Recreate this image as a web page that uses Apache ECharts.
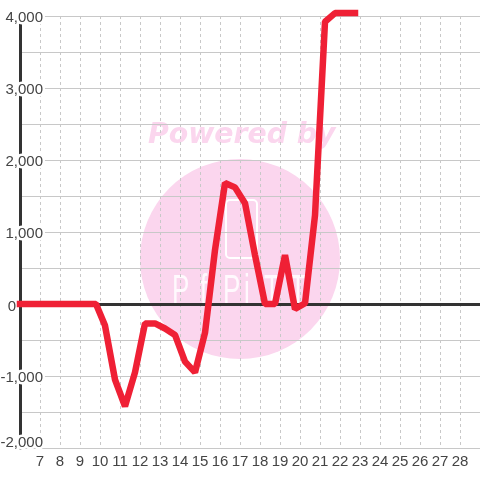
<!DOCTYPE html>
<html>
<head>
<meta charset="utf-8">
<style>
  html, body { margin: 0; padding: 0; background: #fff; }
  #main { width: 480px; height: 480px; }
</style>
<script src="https://cdn.jsdelivr.net/npm/echarts@6/dist/echarts.min.js"></script>
</head>
<body>
<div id="main"></div>
<script>
var days = [6, 6.75, 7.75, 8.75, 9.8, 10.25, 10.75, 11.25, 11.75, 12.25, 12.75, 13.25, 13.75, 14.25, 14.75, 15.25, 15.75, 16.25, 16.75, 17.25, 17.75, 18.25, 18.75, 19.25, 19.75, 20.25, 20.75, 21.25, 21.75, 22.25, 22.75];
var values = [0, 0, 0, 0, 0, -300, -1050, -1420, -950, -270, -270, -340, -430, -800, -950, -400, 750, 1680, 1620, 1400, 680, 0, 0, 680, -70, 10, 1230, 3920, 4040, 4040, 4040];
var markLetters = ['P', 'f', 'P', 'i', 'T', 'T'];
var markLetterX = [172, 200, 223, 244, 264, 290];

var chart = echarts.init(document.getElementById('main'), null, { renderer: 'canvas' });
var labelFont = { fontFamily: 'Liberation Sans', fontSize: 15, color: '#444' };
var halo = { textBorderColor: '#fff', textBorderWidth: 5 };

// watermark sits under the grid lines
var markElements = [
  { type: 'circle', z: -1, silent: true, shape: { cx: 240, cy: 259, r: 100 }, style: { fill: '#fbd6ee' } },
  { type: 'text', z: -1, silent: true, x: 148, y: 122, style: { text: 'Powered by', fontFamily: 'DejaVu Sans', fontWeight: 'bold', fontStyle: 'italic', fontSize: 28.3, fill: '#fbd6ee' } },
  { type: 'rect', z: -1, silent: true, shape: { x: 226, y: 200, width: 31, height: 58, r: 4 }, style: { fill: 'none', stroke: '#fff', lineWidth: 2 } }
];
markLetters.forEach(function (ch, i) {
  markElements.push({ type: 'text', z: -1, silent: true, x: markLetterX[i], y: 272, scaleX: 0.65, style: { text: ch, fontFamily: 'Liberation Sans', fontSize: 40, fill: '#fff', opacity: 0.85 } });
});

chart.setOption({
  animation: false,
  backgroundColor: '#fff',
  grid: { left: 20, right: 0, top: 16, bottom: 32, outerBoundsMode: 'none' },
  graphic: { z: -1, elements: markElements },
  xAxis: [
    {
      type: 'value', min: 6, max: 29, interval: 1, position: 'bottom',
      axisLine: { show: false, onZero: false },
      axisTick: { show: false },
      axisLabel: Object.assign({ margin: 6, showMinLabel: false, showMaxLabel: false, hideOverlap: false }, labelFont),
      splitLine: { show: true, lineStyle: { color: '#c8c8c8', type: [3, 3], width: 1 } }
    },
    {
      // dark zero line, crosses at y = 0
      type: 'value', min: 6, max: 29, interval: 1,
      axisLine: { show: true, onZero: true, lineStyle: { color: '#333', width: 3 } },
      axisTick: { show: false },
      axisLabel: { show: false },
      splitLine: { show: false }
    }
  ],
  yAxis: {
    type: 'value', min: -2000, max: 4000, interval: 1000,
    axisLine: { show: true, onZero: false, lineStyle: { color: '#333', width: 3 } },
    axisTick: { show: false },
    minorTick: { show: false, splitNumber: 2 },
    minorSplitLine: { show: true, lineStyle: { color: '#c8c8c8', width: 1 } },
    splitLine: { show: true, lineStyle: { color: '#c8c8c8', width: 1 } },
    axisLabel: Object.assign({
      margin: -23,
      align: 'right',
      padding: [3, 0, 0, 0],
      formatter: function (v) {
        // 0 sits left of the axis, the lowest label is lifted off the bottom edge
        if (v === 0) return '{zero|0}';
        if (v === -2000) return '{low|-2,000}';
        return echarts.format.addCommas(v);
      },
      rich: {
        zero: Object.assign({ padding: [2, 27, 0, 0] }, halo, labelFont),
        low: Object.assign({ padding: [0, 0, 14, 0] }, halo, labelFont)
      }
    }, halo, labelFont)
  },
  series: [{
    type: 'line',
    xAxisIndex: 0,
    data: days.map(function (d, i) { return [d, values[i]]; }),
    showSymbol: false,
    clip: false,
    lineStyle: { color: '#ef2035', width: 6.5, cap: 'square', join: 'bevel' }
  }]
});
</script>
</body>
</html>
